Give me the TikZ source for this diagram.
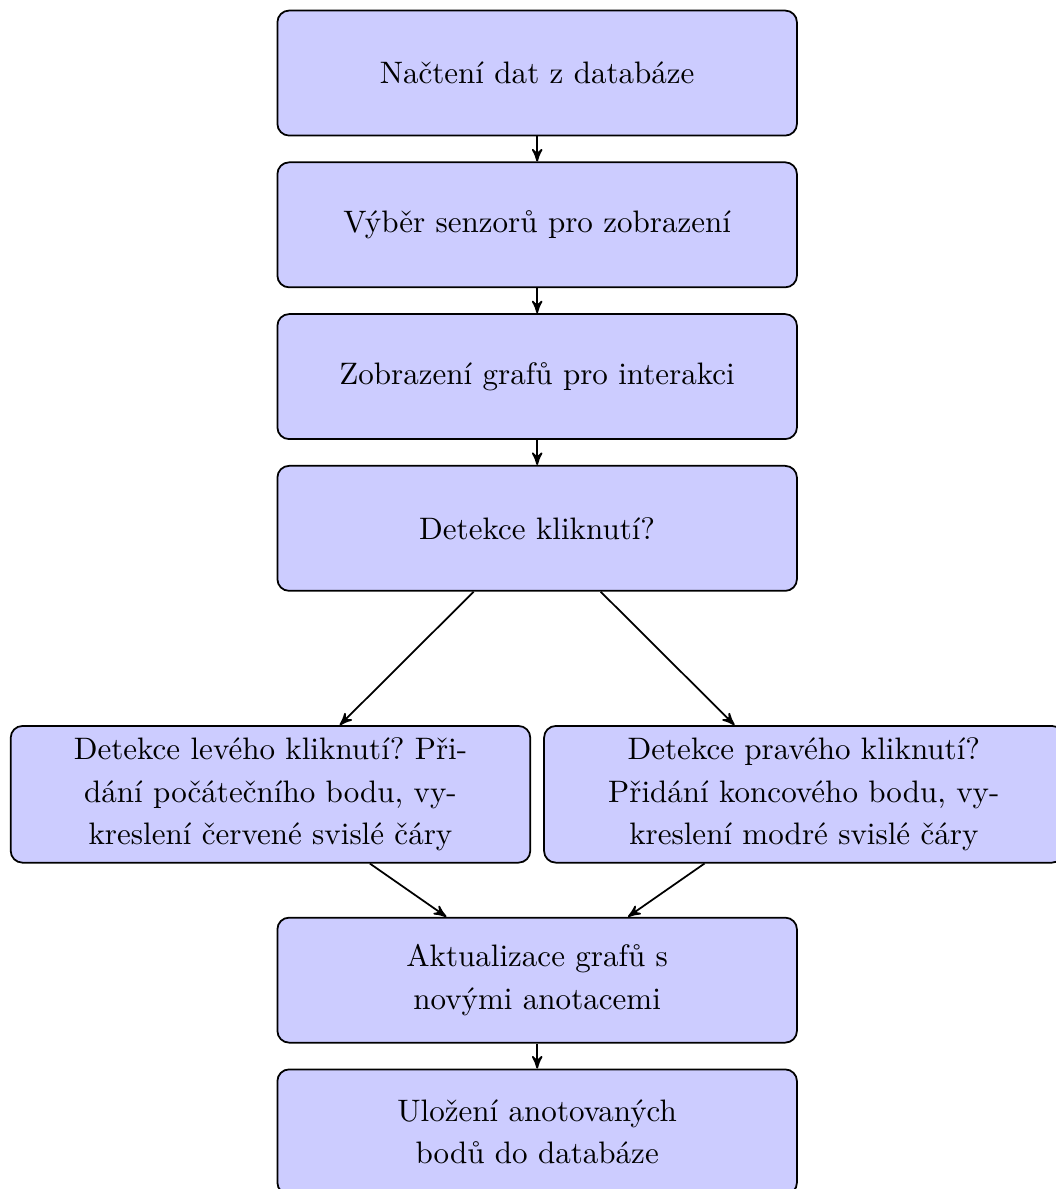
\documentclass[tikz,border=0pt]{standalone}
\usepackage{tikz}
\usetikzlibrary{arrows,positioning}
\tikzset{blok/.style={rectangle,rounded corners,draw,fill=blue!20,text width=6cm,align=center,minimum height=1.5cm,font=\fontsize{10.6pt}{14.5pt}\selectfont\frenchspacing},
}

\begin{document}
\begin{tikzpicture}[->,>=stealth',auto,node distance=0.3cm,semithick]
		
		\useasboundingbox (-183.4pt,-381pt) rectangle (177pt,24.95pt);
		
		\node[blok] (nacteni) at (0,0) {Načtení dat z databáze};
		\node[blok] (vyber) [below=of nacteni] {Výběr senzorů pro zobrazení};
		\node[blok] (zobrazeni) [below=of vyber] {Zobrazení grafů pro interakci};
		\node[blok] (detekce) [below=of zobrazeni] {Detekce kliknutí?};
		\node[blok,minimum height=1.64cm] (leve) [below=1.6cm of detekce, xshift=-3.2cm] {Detekce levého kliknutí? Při-\\dání počátečního bodu, vy-\\kreslení červené svislé čáry};
		\node[blok,minimum height=1.64cm] (prave) [below=1.6cm of detekce, xshift=3.2cm] {Detekce pravého kliknutí?\\Přidání koncového bodu, vy-\\kreslení modré svislé čáry};
		\node[blok] (aktualizace) [below=3.9cm of detekce] {Aktualizace grafů s\\novými anotacemi};
		\node[blok] (ulozeni) [below=of aktualizace] {Uložení anotovaných\\bodů do databáze};
		
		\path
		(nacteni) edge (vyber)
		(vyber) edge (zobrazeni)
		(zobrazeni) edge (detekce)
		(detekce) edge (leve)
		(detekce) edge (prave)
		(leve) edge (aktualizace)
		(prave) edge (aktualizace)
		(aktualizace) edge (ulozeni)
		;
		\end{tikzpicture}
\end{document}
